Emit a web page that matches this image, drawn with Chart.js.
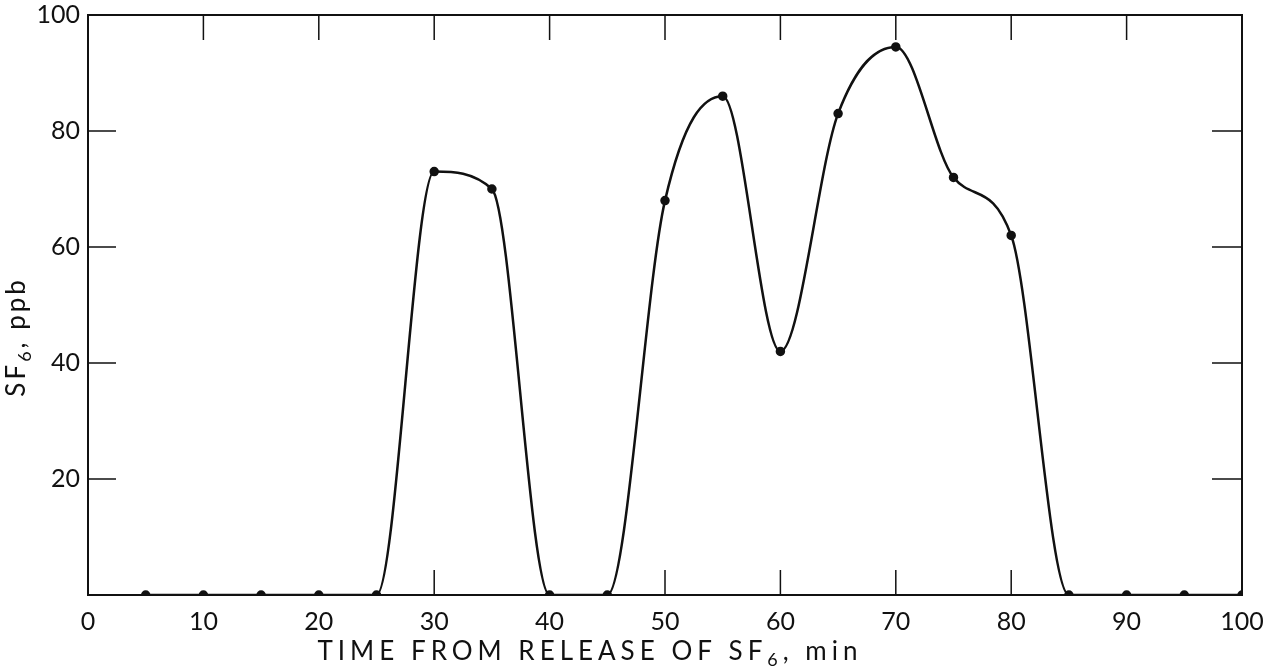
<!DOCTYPE html>
<html>
<head>
<meta charset="utf-8">
<script src="https://cdn.jsdelivr.net/npm/chart.js@4/dist/chart.umd.min.js"></script>
<style>
  html, body { margin: 0; padding: 0; background: #fff; }
  #wrap { width: 1271px; height: 671px; }
</style>
</head>
<body>
<div id="wrap"><canvas id="chart"></canvas></div>
<script>
// time after release (min) and measured SF6 (ppb)
const times = [5, 10, 15, 20, 25, 30, 35, 40, 45, 50, 55, 60, 65, 70, 75, 80, 85, 90, 95, 100];
const sf6 = [0, 0, 0, 0, 0, 73, 70, 0, 0, 68, 86, 42, 83, 94.5, 72, 62, 0, 0, 0, 0];

const xTicks = [0, 10, 20, 30, 40, 50, 60, 70, 80, 90, 100];
const yTicks = [20, 40, 60, 80, 100];
const topTickMarks = [10, 20, 30, 40, 50, 60, 70, 80, 90];
const bottomTickMarks = [30, 50, 60, 70, 80];
const sideTickMarks = [20, 40, 60, 80];

// titles as [text, isSubscript] pieces
const xTitle = [['TIME FROM RELEASE OF SF', false], ['6', true], [', min', false]];
const yTitle = [['SF', false], ['6', true], [', ppb', false]];

const FONT = "Lato, 'DejaVu Sans', sans-serif";

function drawPieces(ctx, pieces, cx, cy, size, spacing) {
    ctx.letterSpacing = spacing + 'px';
    const widths = pieces.map(([t, sub]) => {
        ctx.font = (sub ? Math.round(size * 0.7) : size) + 'px ' + FONT;
        return ctx.measureText(t).width;
    });
    let x = cx - widths.reduce((s, w) => s + w, 0) / 2;
    ctx.textAlign = 'left';
    ctx.textBaseline = 'alphabetic';
    pieces.forEach(([t, sub], i) => {
        ctx.font = (sub ? Math.round(size * 0.7) : size) + 'px ' + FONT;
        ctx.fillText(t, x, cy + size * 0.36 + (sub ? size * 0.22 : 0));
        x += widths[i];
    });
}

// frame, inward ticks and axis titles, placed from the scales
const framePlugin = {
    id: 'frame',
    afterDraw(chart) {
        const ctx = chart.ctx;
        const a = chart.chartArea;
        const xs = chart.scales.x;
        const ys = chart.scales.y;
        ctx.save();
        ctx.strokeStyle = '#111';
        ctx.lineWidth = 2;
        ctx.strokeRect(a.left, a.top, a.right - a.left, a.bottom - a.top);
        ctx.lineWidth = 1.5;
        ctx.beginPath();
        topTickMarks.forEach(v => {
            const px = xs.getPixelForValue(v);
            ctx.moveTo(px, a.top);
            ctx.lineTo(px, a.top + 25);
        });
        bottomTickMarks.forEach(v => {
            const px = xs.getPixelForValue(v);
            ctx.moveTo(px, a.bottom);
            ctx.lineTo(px, a.bottom - 25);
        });
        sideTickMarks.forEach(v => {
            const py = ys.getPixelForValue(v);
            ctx.moveTo(a.left, py);
            ctx.lineTo(a.left + 28, py);
            ctx.moveTo(a.right, py);
            ctx.lineTo(a.right - 30, py);
        });
        ctx.stroke();

        ctx.fillStyle = '#111';
        // x title sits a bit left of centre in the original
        drawPieces(ctx, xTitle, a.left + 0.435 * (a.right - a.left), 651, 26, 5);

        // y title, rotated, somewhat below the middle
        ctx.translate(16, a.top + 0.555 * (a.bottom - a.top));
        ctx.rotate(-Math.PI / 2);
        drawPieces(ctx, yTitle, 0, 0, 26, 3);
        ctx.restore();
    }
};

new Chart(document.getElementById('chart'), {
    type: 'line',
    data: {
        labels: times,
        datasets: [{
            label: 'SF6',
            data: times.map((t, i) => ({ x: t, y: sf6[i] })),
            borderColor: '#111',
            backgroundColor: '#111',
            borderWidth: 2.5,
            pointRadius: 3.5,
            pointHoverRadius: 3.5,
            cubicInterpolationMode: 'monotone',
            fill: false
        }]
    },
    options: {
        responsive: true,
        maintainAspectRatio: false,
        animation: false,
        events: [],
        layout: { padding: { top: 15, right: 29, left: 0, bottom: 0 } },
        plugins: {
            legend: { display: false },
            tooltip: { enabled: false }
        },
        scales: {
            x: {
                type: 'linear',
                min: 0,
                max: 100,
                afterFit(scale) {
                    scale.height = 76;
                    scale.paddingLeft = 0;
                    scale.paddingRight = 0;
                },
                afterBuildTicks(scale) { scale.ticks = xTicks.map(v => ({ value: v })); },
                grid: { display: false, drawTicks: false },
                border: { display: false },
                ticks: {
                    color: '#111',
                    padding: 12,
                    maxRotation: 0,
                    font: { family: FONT, size: 25 }
                }
            },
            y: {
                min: 0,
                max: 100,
                afterFit(scale) {
                    scale.width = 88;
                    scale.paddingTop = 0;
                    scale.paddingBottom = 0;
                },
                afterBuildTicks(scale) { scale.ticks = yTicks.map(v => ({ value: v })); },
                grid: { display: false, drawTicks: false },
                border: { display: false },
                ticks: {
                    color: '#111',
                    padding: 8,
                    font: { family: FONT, size: 25 }
                }
            }
        }
    },
    plugins: [framePlugin]
});
</script>
</body>
</html>
